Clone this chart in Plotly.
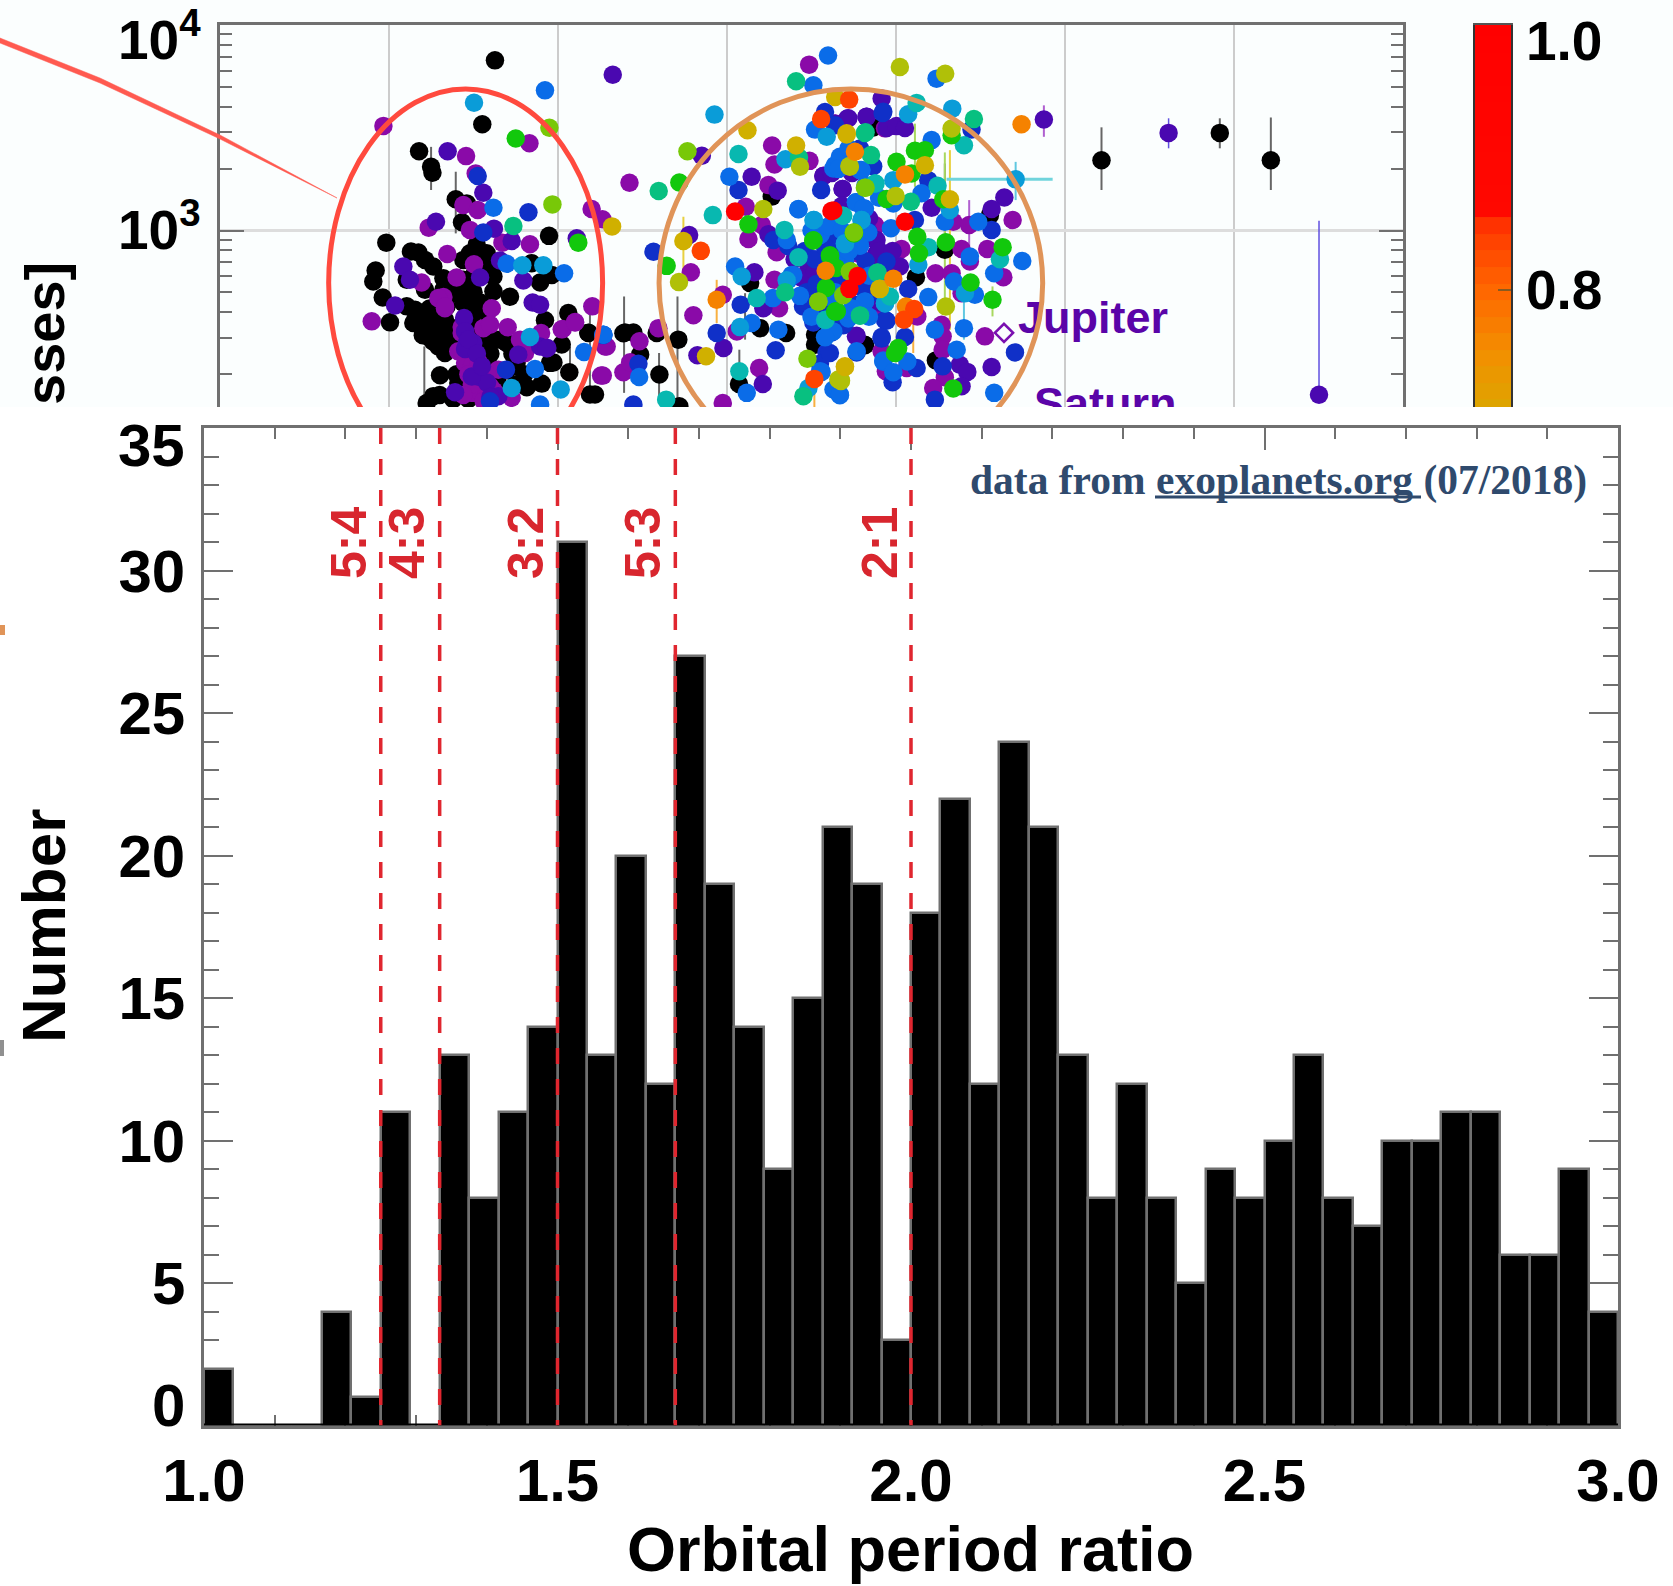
import numpy as np
import plotly.graph_objects as go

# ---------- histogram data ----------
ratio_min, ratio_max, n_bins = 1.0, 3.0, 48
counts = [2,0,0,0,4,1,11,0,13,8,11,14,31,13,20,12,27,19,14,9,15,21,19,3,
          18,22,12,24,21,13,8,12,8,5,9,8,10,13,8,7,10,10,11,11,6,6,9,4]
resonance_values = [5/4, 4/3, 3/2, 5/3, 2.0]
resonance_labels = ["5:4", "4:3", "3:2", "5:3", "2:1"]
hist_x_ticks = [1.0, 1.5, 2.0, 2.5, 3.0]
hist_y_ticks = [0, 5, 10, 15, 20, 25, 30, 35]

# ---------- scatter data: (x, log10 mass) ----------
black = [(1.627,3.828),(1.552,3.517),(1.178,3.386),(1.249,3.310),(1.257,3.281),(1.395,3.152),(1.460,3.132),(1.432,3.040),
(0.984,2.941),(1.947,2.974),(1.130,2.898),(1.174,2.893),(0.921,2.805),(0.907,2.752),(0.963,2.674),(1.006,2.553),(1.716,2.678),
(1.844,2.841),(1.894,2.747),(1.963,2.784),(1.923,2.563),(2.061,2.598),(2.180,2.501),(2.022,2.445),(2.067,2.310),(1.953,2.356),
(1.904,2.255),(1.815,2.237),(1.302,2.296),(1.262,2.194),(1.223,2.161),(1.410,2.258),(2.189,2.202),(2.219,2.202),
(1.213,2.857),(1.262,2.825),(1.322,2.768),(1.213,2.712),(1.105,2.760),(1.105,2.631),(1.154,2.614),(1.203,2.598),(1.243,2.582),
(1.184,2.550),(1.144,2.550),(1.223,2.517),(1.282,2.550),(1.331,2.566),(1.243,2.477),(1.292,2.436),(1.331,2.404),(1.341,2.485),
(1.391,2.517),(1.440,2.857),(1.479,2.889),(1.519,2.930),(1.578,2.889),(1.618,2.825),(1.618,2.776),(1.618,2.704),(1.539,2.857),
(1.578,2.825),(1.460,2.728),(1.400,2.695),(1.479,2.663),(1.519,2.614),(1.440,2.647),(1.598,2.453),(1.578,2.388),(1.696,2.453),
(1.755,2.356),(1.657,2.469),(1.618,2.323),(1.322,2.712),(1.973,2.358),(2.387,2.500),(2.180,2.503),
(3.265,3.165),(3.137,2.744),(3.196,2.525),(3.350,2.501),(3.521,2.493),(3.521,2.444),(2.712,2.469),(2.584,2.501),(2.397,2.504),
(2.446,2.504),(2.486,2.396),(2.600,2.299),(2.718,2.145),(3.071,2.253),(3.865,3.501),(4.556,3.075),(4.289,2.906),(4.118,2.773),
(3.826,2.703),(3.816,2.444),(4.236,2.368),(3.816,2.442),(5.216,3.342),(5.916,3.475),(6.218,3.342),
(1.18,2.59),(1.22,2.56),(1.26,2.54),(1.30,2.51),(1.20,2.49),(1.26,2.46),(1.30,2.45),(1.35,2.45),(1.36,2.53),(1.38,2.48),(1.28,2.60),
(1.16,2.58),(1.24,2.62),(1.34,2.63),(1.44,2.55),(1.49,2.56),(1.50,2.70),(1.54,2.65),(1.55,2.80),(1.50,2.78),(1.44,2.76),(1.37,2.75),
(1.58,2.60),(1.63,2.47),(1.53,2.48),(1.60,2.40),(1.52,2.33),(1.46,2.26),(1.40,2.30),(1.58,2.20),(1.64,2.27),(1.70,2.32),(1.75,2.25),
(1.47,2.18),(1.38,2.18),(1.30,2.20),(1.73,2.40),(1.80,2.30)]
violet = [(0.967,3.509),(1.831,3.425),(1.456,3.362),(1.513,3.278),(1.235,3.014),(1.440,3.124),(1.525,3.100),(1.479,3.003),(1.345,2.886),
(1.834,2.933),(1.671,2.941),(1.503,2.836),(1.400,2.771),(1.193,2.747),(1.322,2.676),(1.292,2.671),(1.331,2.622),(1.608,2.622),
(0.898,2.558),(1.558,2.525),(1.598,2.542),(1.702,2.529),(1.900,2.501),(2.028,2.521),(2.101,2.555),(2.203,2.631),(2.199,3.105),
(2.263,3.055),(1.430,2.501),(1.410,2.412),(1.450,2.355),(1.519,2.339),(1.558,2.291),(1.499,2.210),(1.598,2.242),(1.726,2.186),
(1.805,2.404),(1.775,2.469),(2.255,2.294),(2.278,2.436),(1.647,2.323),(2.423,3.232),(2.482,2.461),(2.288,2.436),(2.387,2.310),
(2.427,2.359),(2.265,2.294),(2.594,2.525),(2.786,2.797),(2.801,2.588),(2.975,2.687),(2.975,2.161),(3.111,3.116),(3.127,2.959),
(3.206,3.027),(3.245,3.221),(3.267,3.414),(3.281,3.321),(3.488,3.339),(3.486,3.807),(3.294,2.894),(3.281,2.760),(3.308,2.622),
(3.058,2.509),(3.190,2.331),(3.571,3.266),(3.639,3.521),(3.935,3.497),(3.879,3.021),(3.777,2.888),(3.866,2.604),
(3.875,3.027),(3.658,3.003),(3.777,2.889),(3.856,2.606),(4.033,2.910),(4.234,2.792),(4.329,2.792),(4.339,3.043),(4.433,3.027),
(4.388,2.910),(4.540,2.910),(4.437,2.849),(4.635,2.773),(4.388,2.695),(4.126,2.582),(4.270,2.541),(4.276,2.485),(4.526,2.485),
(3.940,2.315),(4.063,2.331),(4.276,2.420),(3.915,2.412),(4.289,2.286),(4.220,2.234),(4.690,3.051),(2.022,2.519),(2.101,2.552),(1.332,2.630),
(1.43,2.53),(1.46,2.48),(1.47,2.42),(1.50,2.40),(1.49,2.34),(1.53,2.36),(1.47,2.30),(1.52,2.27),(1.55,2.25),(1.58,2.30),(1.53,2.22),
(1.49,2.25),(1.56,2.17),(1.62,2.22),(1.44,2.20)]
indigo = [(1.347,3.386),(1.278,3.043),(1.558,3.184),(1.621,3.009),(1.085,2.825),(1.124,2.760),(1.036,2.635),(1.726,2.949),(1.657,2.854),
(1.444,2.574),(1.450,2.509),(1.460,2.453),(1.499,2.453),(1.450,2.424),(1.539,2.771),(1.795,2.757),(1.850,2.650),(1.894,2.639),
(1.765,2.396),(1.894,2.436),(1.937,2.428),(1.391,2.213),(1.647,2.194),(2.111,2.962),(1.529,2.289),(1.933,2.427),
(2.324,3.758),(2.851,3.364),(2.776,2.978),(2.825,2.393),(2.979,2.428),(3.146,3.262),(3.300,3.194),(3.245,2.982),(3.162,2.797),
(3.215,2.622),(3.212,2.253),(3.482,2.728),(3.488,2.812),(3.640,3.520),(3.718,3.546),(3.826,3.554),(3.570,3.265),(3.684,3.202),
(3.660,2.999),(3.879,2.953),(3.885,2.888),(3.481,2.812),(3.763,2.486),(3.915,3.642),(4.875,3.540),(3.826,3.553),(3.712,3.545),
(3.944,3.499),(4.003,3.508),(4.053,3.499),(3.684,3.202),(4.641,3.161),(4.566,3.105),(4.211,3.111),(3.885,2.954),(3.885,2.881),
(4.023,2.825),(3.767,2.488),(4.378,2.347),(4.422,2.312),(4.388,2.242),(4.566,2.336),(5.613,3.475),(6.503,2.201),
(1.47,2.47),(1.52,2.40),(1.58,2.26),(1.49,2.29),(1.55,2.34),(1.60,2.19),
(3.40,2.86),(3.44,2.77),(3.52,2.80),(3.58,2.70),(3.72,2.94),(3.80,2.96),(3.84,3.06),(3.90,2.90),(3.74,3.28),(3.62,3.28),(3.68,3.12),
(3.93,2.80),(3.98,2.90),(3.90,2.65)]
navy = [(1.525,3.265),(1.825,3.089),(1.558,2.990),(1.692,2.323),(1.598,2.169),(2.565,2.897),(2.476,2.352),(2.446,2.153),
(2.939,2.501),(3.081,2.639),(3.288,2.417),(3.068,3.197),(3.275,2.954),(3.363,2.925),(3.557,3.197),(3.580,3.577),(3.594,2.404),
(3.599,2.953),(3.836,2.994),(3.511,2.552),(3.619,2.504),(3.688,2.539),(3.935,2.564),(3.767,2.406),(3.915,2.474),(3.589,2.406),
(3.550,2.352),(3.925,3.578),(3.921,3.572),(3.639,3.512),(3.787,3.399),(3.865,3.313),(4.191,3.245),(4.447,3.491),(4.112,3.051),
(4.566,3.003),(3.944,2.849),(4.072,2.715),(3.944,2.561),(3.698,2.550),(3.915,2.482),(4.053,2.482),(3.980,2.262),(4.122,2.331),
(4.276,2.339),(4.230,2.177),(4.704,2.407),(3.609,2.404),(2.268,2.492),
(3.46,2.90),(3.52,2.86),(3.58,2.92),(3.66,2.91),(3.70,2.83),(3.76,2.90),(3.82,2.85),(3.60,2.78),(3.47,2.70),(3.53,2.74),(3.66,2.76),
(3.80,2.72),(3.56,2.62),(3.63,2.58),(3.75,2.64),(3.86,2.70),(3.45,2.63)]
blue = [(1.923,3.682),(1.618,3.111),(1.696,2.838),(2.036,2.792),(2.154,2.409),(1.864,2.326),(1.894,2.153),(2.268,2.493),(2.269,2.493),
(2.480,2.287),(3.117,2.210),(3.146,2.550),(3.271,2.671),(3.304,2.517),(3.432,2.682),(3.354,2.954),(3.423,3.105),(3.014,3.262),
(3.048,2.825),(3.383,2.784),(3.363,2.760),(3.511,3.707),(3.598,3.852),(3.521,3.491),(3.551,2.978),(3.551,2.315),(3.630,2.226),
(3.678,3.359),(3.639,3.318),(3.787,3.294),(3.763,3.137),(3.816,3.107),(3.422,3.104),(3.556,2.986),(3.787,2.926),(3.698,2.856),
(3.816,2.653),(3.639,2.661),(3.718,2.572),(3.925,2.361),(3.560,2.312),(3.668,2.198),(3.392,2.783),(4.240,3.739),(4.211,3.440),
(3.668,3.359),(3.796,3.294),(3.629,3.302),(4.151,3.181),(3.984,3.132),(3.763,3.137),(3.806,3.108),(4.289,3.043),(4.487,3.043),
(3.970,3.011),(3.836,2.990),(3.786,2.927),(4.437,2.873),(4.747,2.852),(4.581,2.792),(4.343,2.752),(4.467,2.687),(4.191,2.676),
(3.816,2.655),(3.629,2.509),(4.230,2.517),(4.402,2.525),(3.767,2.412),(3.925,2.367),(4.067,2.363),(3.984,2.310),(4.359,2.420),
(4.581,2.210),(3.668,2.202),(3.688,2.865),
(3.50,3.00),(3.60,3.02),(3.68,3.00),(3.72,2.90),(3.64,2.70),(3.76,2.78),(3.84,2.78),(3.60,2.68),(3.50,2.58),(3.72,3.40),(3.66,3.30),
(3.82,3.22),(3.90,3.16),(3.74,2.62),(3.58,2.48),(3.84,2.58)]
cyan = [(1.503,3.622),(1.789,2.831),(1.913,2.831),(1.834,2.482),(1.726,2.234),(2.016,2.226),(2.926,3.564),(3.346,3.347),(3.087,2.776),
(3.077,2.530),(3.515,3.051),(3.590,3.456),(3.482,2.234),(3.511,3.051),(3.698,2.934),(3.797,3.051),(3.935,2.645),(3.580,2.564),
(3.353,2.758),(4.072,3.566),(4.333,3.593),(3.984,3.245),(4.708,3.249),(4.319,3.100),(3.796,3.051),(3.698,2.938),(4.132,2.833),
(4.408,2.695),(3.934,2.647)]
teal = [(2.916,3.075),(3.068,3.372),(3.340,3.003),(3.423,2.870),(3.176,2.671),(2.640,2.177),(3.073,2.315),(3.584,2.566),(3.684,3.072),
(3.879,3.229),(4.122,3.621),(4.402,3.415),(3.688,3.072),(3.875,3.229),(4.246,3.218),(4.191,2.919),(4.615,2.860),(3.964,2.679)]
seagreen = [(1.736,3.022),(2.596,3.192),(3.426,3.355),(3.409,3.726),(3.344,2.700),(3.452,2.194),(3.820,3.478),(3.852,3.367),(3.889,2.794),
(3.787,2.585),(4.461,3.543),(3.816,3.475),(4.088,3.140),(3.891,2.796),(3.787,2.587)]
green = [(1.750,3.448),(2.120,2.941),(2.718,3.234),(3.127,3.030),(2.643,2.828),(3.511,2.951),(3.610,2.873),(3.586,2.720),(3.640,2.606),
(3.511,2.953),(3.751,2.986),(3.609,2.880),(3.645,2.818),(3.586,2.723),(3.649,2.607),(4.329,3.464),(4.112,3.388),(4.171,3.391),
(4.003,3.334),(4.092,3.278),(3.944,3.153),(4.280,3.152),(3.751,2.990),(4.126,2.970),(4.295,2.943),(4.631,2.919),(4.136,2.889),
(4.441,2.747),(4.571,2.663),(3.648,2.606),(4.013,2.428),(3.994,2.404),(4.339,2.231)]
lime = [(1.949,3.500),(1.967,3.127),(2.766,3.386),(3.476,2.376),(3.541,2.655),(3.820,3.208),(3.731,2.802),(3.688,2.685),(3.540,2.653),
(3.816,3.208),(3.727,2.800),(3.751,2.990)]
olive = [(3.215,3.105),(2.716,2.749),(3.432,3.310),(3.659,2.275),(3.724,3.314),(3.674,2.268),(4.023,3.796),(4.291,3.763),(4.329,3.496),
(3.727,3.310),(3.998,3.168),(4.295,2.630),(3.674,2.271)]
yellow = [(2.320,3.020),(3.121,3.488),(3.409,3.414),(3.640,3.650),(2.742,2.949),(2.876,2.388),(3.708,3.473),(3.708,3.467),(3.901,2.715),
(3.698,2.336),(4.171,3.318),(4.319,3.152),(3.905,2.716),(3.698,2.339)]
orange = [(2.939,2.663),(3.584,2.804),(3.757,3.383),(4.053,3.273),(4.743,3.517),(3.984,2.765),(4.059,2.630)]
redorange = [(2.845,2.901),(3.557,3.542),(3.517,2.278),(3.723,3.637),(4.108,2.618),(4.047,2.566)]
red = [(3.048,3.092),(3.618,3.095),(3.773,2.779),(3.724,2.716),(4.053,3.043),(3.629,3.097)]

point_groups = [(black,"#000000"),(violet,"#8a0aa8"),(indigo,"#4a08b0"),(navy,"#1030c8"),(blue,"#0a6ce8"),(cyan,"#0a9cd8"),
                (teal,"#08b8b0"),(seagreen,"#08c080"),(green,"#12c80c"),(lime,"#78c808"),(olive,"#b0c008"),(yellow,"#d0b000"),
                (orange,"#f58200"),(redorange,"#ff4400"),(red,"#ff0000")]

# error bars (x, log10 low, log10 high)
err_gray = [(1.249,3.197,3.407),(1.395,2.986,3.286),(1.209,2.145,2.436),(2.189,2.210,2.590),(2.071,2.275,2.436),(2.391,2.210,2.679),
            (2.707,2.161,2.679),(2.598,2.177,2.404),(3.073,2.275,2.420),(3.107,2.469,2.695),(4.289,2.889,3.326),(5.216,3.197,3.502),
            (5.916,3.400,3.546),(6.218,3.197,3.550)]
err_yellow = [(2.742,2.792,3.067),(4.319,2.517,3.391),(4.171,3.165,3.431)]
err_lime = [(4.289,2.630,3.380),(4.112,3.213,3.520),(4.571,2.582,2.728)]
err_orange = [(2.939,2.550,2.760),(4.102,2.404,2.550),(3.517,2.140,2.290)]
err_violet = [(4.433,2.922,3.148),(4.875,3.456,3.609)]
err_cyan = [(4.402,2.469,2.663),(4.708,3.148,3.334)]
err_indigo = [(6.503,2.201,3.047),(5.613,3.400,3.546)]
cyan_horizontal = (4.299, 4.927, 3.249)

top_grid_x = [1, 2, 3, 4, 5, 6]
jupiter_mark = (4.639, 2.502)
colorbar_levels = [round(0.711 + i*0.0125, 4) for i in range(24)]
mass_minor = [m*10**e for e in (2,3) for m in range(2,10)]

W, H = 1673, 1586
def fx(p): return p/W
def fy(p): return 1 - p/H

FONT = "Liberation Sans"
fig = go.Figure()

# ---------- histogram ----------
edges = np.linspace(ratio_min, ratio_max, n_bins+1)
centers = (edges[:-1]+edges[1:])/2
fig.add_trace(go.Bar(x=centers, y=counts, width=edges[1]-edges[0], marker=dict(color="#000000", line=dict(color="#707070", width=2.5)),
                     xaxis="x", yaxis="y", showlegend=False))
fig.add_trace(go.Scatter(x=[ratio_min, ratio_max], y=[0,0], mode="lines", line=dict(color="#000000", width=4), cliponaxis=False,
                         xaxis="x", yaxis="y", showlegend=False))
for v in resonance_values:
    fig.add_trace(go.Scatter(x=[v,v], y=[35,0], mode="lines", line=dict(color="#e0262f", width=3.5, dash="16px,15px"),
                             xaxis="x", yaxis="y", showlegend=False))

# ---------- scatter ----------
def add_err(items, color, width=1.5):
    xs, ys = [], []
    for x, lo, hi in items:
        xs += [x, x, None]; ys += [10**lo, 10**hi, None]
    fig.add_trace(go.Scatter(x=xs, y=ys, mode="lines", line=dict(color=color, width=width), xaxis="x2", yaxis="y2", showlegend=False))
add_err(err_gray, "#666666", 2)
add_err(err_yellow, "#e8d040", 2)
add_err(err_lime, "#a8d860", 2)
add_err(err_orange, "#f8b040", 2)
add_err(err_violet, "#b060d0", 2)
add_err(err_cyan, "#60c8e0", 2)
add_err(err_indigo, "#6050e0", 1.5)
fig.add_trace(go.Scatter(x=list(cyan_horizontal[:2]), y=[10**cyan_horizontal[2]]*2, mode="lines", line=dict(color="#70d4dc", width=3),
                         xaxis="x2", yaxis="y2", showlegend=False))
for pts, col in point_groups:
    fig.add_trace(go.Scatter(x=[p[0] for p in pts], y=[10**p[1] for p in pts], mode="markers",
                             marker=dict(color=col, size=18.5, line=dict(width=0)), xaxis="x2", yaxis="y2", showlegend=False))
fig.add_trace(go.Scatter(x=[jupiter_mark[0]], y=[10**jupiter_mark[1]], mode="markers",
                         marker=dict(symbol="diamond-open", color="#7a10b0", size=14, line=dict(width=2.5, color="#7a10b0")),
                         xaxis="x2", yaxis="y2", showlegend=False))
fig.add_trace(go.Scatter(x=[4.722, 4.817], y=[10**2.555, 10**2.136], mode="text", text=["Jupiter","Saturn"], textposition="middle right",
                         textfont=dict(family=FONT, size=45, color="#5a04a8", weight="bold"), cliponaxis=True,
                         xaxis="x2", yaxis="y2", showlegend=False))

# ---------- colour bar ----------
fig.add_trace(go.Heatmap(x=[0,1], y=colorbar_levels+[1.0], z=[[v,v] for v in colorbar_levels+[1.0]], zmin=0.7, zmax=1.0, showscale=False,
                         colorscale=[[0,"#d8aa00"],[0.17,"#f29000"],[0.33,"#ff6800"],[0.49,"#ff3800"],[0.53,"#ff0800"],[1,"#ff0000"]],
                         xaxis="x3", yaxis="y3", zsmooth=False))

# ---------- layout ----------
axcol = "#707070"
shapes = [
    dict(type="rect", xref="paper", yref="paper", x0=0, x1=1, y0=fy(407), y1=1, fillcolor="#fbfefe", line_width=0, layer="below"),
    dict(type="circle", xref="x2", yref="y2", x0=0.643, x1=2.264, y0=10**1.80, y1=10**3.689, line=dict(color="#ff4a3e", width=5), layer="above"),
    dict(type="circle", xref="x2", yref="y2", x0=2.598, x1=4.868, y0=10**1.80, y1=10**3.689, line=dict(color="#e09458", width=5), layer="above"),
    dict(type="path", xref="paper", yref="paper", layer="above", fillcolor="#ff5a50", line=dict(color="#ff5a50", width=0.5),
         path=f"M {fx(0)} {fy(38)} L {fx(100)} {fy(78)} L {fx(220)} {fy(135)} L {fx(337)} {fy(198)} L {fx(220)} {fy(139)} L {fx(100)} {fy(83)} L {fx(0)} {fy(43)} Z"),
    dict(type="rect", xref="paper", yref="paper", x0=0, x1=fx(5), y0=fy(635), y1=fy(625), fillcolor="#e09458", line_width=0),
    dict(type="rect", xref="paper", yref="paper", x0=0, x1=fx(4), y0=fy(1056), y1=fy(1040), fillcolor="#909090", line_width=0),
    dict(type="line", xref="paper", yref="paper", x0=fx(1155), x1=fx(1421), y0=fy(497), y1=fy(497), line=dict(color="#2f4a6d", width=3)),
]
anns = []
for lab, px_c in zip(resonance_labels, [349, 407, 526, 643, 880]):
    anns.append(dict(text=lab, x=fx(px_c), y=fy(543), xref="paper", yref="paper", xanchor="center", yanchor="middle", showarrow=False, textangle=-90,
                     font=dict(family=FONT, size=50, color="#d8262e", weight="bold")))
def ann(text, x, y, size, xa="center", ya="middle", color="#000000", family=FONT, angle=0, bold=True):
    anns.append(dict(text=text, x=fx(x), y=fy(y), xref="paper", yref="paper", xanchor=xa, yanchor=ya, showarrow=False, textangle=angle,
                     font=dict(family=family, size=size, color=color, weight="bold" if bold else "normal")))
ann("data from exoplanets.org (07/2018)", 968, 480, 41.5, xa="left", color="#2f4a6d", family="Liberation Serif")
ann("Orbital period ratio", 910, 1549, 63)
ann("Number", 43, 926, 62, angle=-90)
ann("sses]", 45, 334, 56, angle=-90)
ann("10<sup>4</sup>", 203, 36, 55, xa="right")
ann("10<sup>3</sup>", 203, 226, 55, xa="right")
ann("1.0", 1524, 41, 55, xa="left")
ann("0.8", 1524, 290, 55, xa="left")
ann("35", 187, 445, 60, xa="right")
ann("0", 187, 1405, 60, xa="right")

fig.update_layout(
    width=W, height=H, autosize=False, margin=dict(l=0, r=0, t=0, b=0, pad=0, autoexpand=False), paper_bgcolor="#ffffff", plot_bgcolor="rgba(0,0,0,0)",
    showlegend=False, shapes=shapes, annotations=anns, barmode="overlay", bargap=0,
    xaxis=dict(domain=[fx(204), fx(1618)], range=[ratio_min, ratio_max], tickvals=hist_x_ticks, ticktext=[f"{t:.1f}" for t in hist_x_ticks],
               ticks="inside", ticklen=22, tickcolor=axcol, tickwidth=2, showgrid=False, zeroline=False, linecolor=axcol, linewidth=2.5, mirror="ticks",
               minor=dict(dtick=0.1, ticks="inside", ticklen=11, tickcolor=axcol, tickwidth=2, showgrid=False), layer="below traces",
               ticklabelstandoff=1, tickfont=dict(family=FONT, size=60, color="#000000", weight="bold"), anchor="y", automargin=False),
    yaxis=dict(domain=[fy(1425.5), fy(428)], range=[0,35], tickvals=hist_y_ticks, ticktext=["" if t in (0, 35) else str(t) for t in hist_y_ticks],
               ticks="inside", ticklen=29, tickcolor=axcol, tickwidth=2, showgrid=False, zeroline=False, linecolor=axcol, linewidth=2.5, mirror="ticks",
               minor=dict(dtick=1, ticks="inside", ticklen=15, tickcolor=axcol, tickwidth=2, showgrid=False), layer="below traces",
               ticklabelstandoff=4, tickfont=dict(family=FONT, size=60, color="#000000", weight="bold"), anchor="x", automargin=False),
    xaxis2=dict(domain=[fx(220), fx(1403)], range=[0,7], tickvals=top_grid_x, showticklabels=False, ticks="", showgrid=True, gridcolor="#cccccc", gridwidth=2,
                zeroline=False, linecolor=axcol, linewidth=3, side="top", anchor="y2", layer="below traces"),
    yaxis2=dict(domain=[fy(407), fy(25)], type="log", range=[2.1412, 4], tickvals=[1000, 10000], showticklabels=False, ticks="inside", ticklen=24, tickcolor=axcol, tickwidth=2,
                showgrid=True, gridcolor="#dddddd", gridwidth=3, zeroline=False, linecolor=axcol, linewidth=3, mirror="ticks", anchor="x2",
                minor=dict(tickvals=mass_minor, ticks="inside", ticklen=12, tickcolor=axcol, tickwidth=2, showgrid=False), layer="below traces"),
    xaxis3=dict(domain=[fx(1475), fx(1511)], range=[0,1], showticklabels=False, ticks="", showgrid=False, zeroline=False, linecolor="#555555", linewidth=2, side="top", anchor="y3"),
    yaxis3=dict(domain=[fy(407), fy(25)], range=[0.7115,1.0], tickvals=[0.8], showticklabels=False, side="right", ticks="inside", ticklen=13, tickcolor="#8a5a20", tickwidth=2,
                showgrid=False, zeroline=False, linecolor="#333333", linewidth=2, mirror=True, anchor="x3"),
)
fig.write_html("out.html", config={"displayModeBar": False}, post_script="document.body.style.margin='0';document.body.style.overflow='hidden';")
